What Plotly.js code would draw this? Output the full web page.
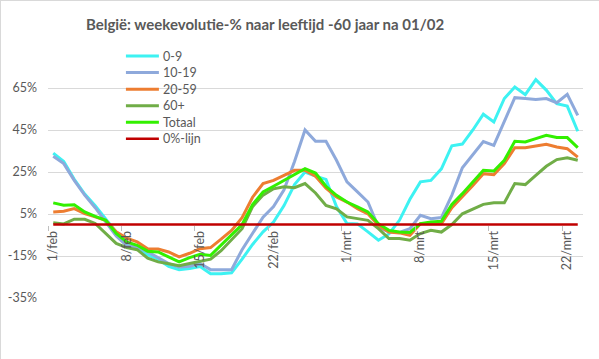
<!DOCTYPE html>
<html>
<head>
<meta charset="utf-8">
<script src="https://cdn.plot.ly/plotly-3.0.1.min.js"></script>
<style>
html,body{margin:0;padding:0;background:#fff;}
#chart{width:599px;height:359px;box-sizing:border-box;border-left:1px solid #d9d9d9;border-top:1px solid #d9d9d9;}
</style>
</head>
<body>
<div id="chart"></div>
<script>
const categories = ['1/feb','2/feb','3/feb','4/feb','5/feb','6/feb','7/feb','8/feb','9/feb','10/feb','11/feb','12/feb','13/feb','14/feb','15/feb','16/feb','17/feb','18/feb','19/feb','20/feb','21/feb','22/feb','23/feb','24/feb','25/feb','26/feb','27/feb','28/feb','1/mrt','2/mrt','3/mrt','4/mrt','5/mrt','6/mrt','7/mrt','8/mrt','9/mrt','10/mrt','11/mrt','12/mrt','13/mrt','14/mrt','15/mrt','16/mrt','17/mrt','18/mrt','19/mrt','20/mrt','21/mrt','22/mrt','23/mrt'];

const age0_9 = [34,30,21.5,14.5,9,2.5,-4,-10,-11,-14.5,-16.5,-20,-21.5,-21,-20,-23.5,-23.5,-23,-16.5,-9.5,-3.5,1.2,9,19,25,23,21.5,8.5,0.5,0.3,-3.5,-7.5,-4.5,2,12,20.3,21,26.5,37.5,38.3,45,52.5,48.8,60,65.5,61.8,69,64,57.5,56.4,44.4];
const age10_19 = [32.5,29,21,14,8,1.5,-5.5,-10,-10.7,-13,-15.8,-18.6,-20.2,-19.9,-18.6,-21.5,-21.5,-21.5,-12,-4.5,3.5,8.5,16.5,30,45,39.6,39.6,30.6,20.3,15.5,10.7,-1.2,-3.6,-3.8,-2,4.4,2.8,3.3,14,27,33,39.5,37.7,48.8,60.4,60,59.5,60,58,62,52];
const age20_59 = [6,6.3,7.6,5.2,3.6,2,-3.5,-6.5,-8.3,-11.5,-11.7,-13.1,-15.4,-13.7,-11.5,-11,-7,-2.8,3.2,13,19.5,21,23.4,25.8,25.8,23,17.3,13.1,10.7,7.5,5.1,-0.4,-3.6,-4,-5.2,0.4,0.4,0.4,8,13.1,18.6,24.2,23.7,29,36.6,36.6,37.4,38.2,36.9,36.1,32.1];
const age60plus = [0.8,0.3,2.5,2.5,0.5,-4.5,-9,-11,-12,-16,-17.8,-18.7,-19.6,-18.6,-17.5,-16.5,-12.5,-7,-2,8.5,14,17,18,17.5,19.5,15,9.1,7.5,3.6,2.8,2,-2,-6.7,-6.7,-7.5,-4.3,-2.8,-3.6,0,5.1,7.5,9.6,10.4,10.4,19.5,19,23.4,27.7,30.9,31.8,30.6];
const totaal = [10.3,9.2,9.4,6,3.9,2,-4.3,-8.3,-9.9,-12.7,-13.1,-15.4,-17.8,-15.8,-14.2,-14.7,-9.9,-5.1,0,9.5,15.5,18.2,21,24.2,26.6,24.5,18.2,13.9,10.7,8.4,6,0.4,-2.8,-3.6,-3.8,0.4,1.2,1.5,9.5,14.7,20.3,25.8,25.5,30.6,39.6,39.3,40.9,42.5,41.4,41.4,36.6];
const nulLijn = [0,0,0,0,0,0,0,0,0,0,0,0,0,0,0,0,0,0,0,0,0,0,0,0,0,0,0,0,0,0,0,0,0,0,0,0,0,0,0,0,0,0,0,0,0,0,0,0,0,0,0];

const yTickVals = [-35,-15,5,25,45,65];
const yTickText = ['-35%','-15%','5%','25%','45%','65%'];

const seriesNames = ['0-9','10-19','20-59','60+','Totaal','0%-lijn'];
const seriesData = [age0_9, age10_19, age20_59, age60plus, totaal, nulLijn];
const seriesColors = ['#3DF2F2','#8EA9DB','#ED7D31','#70AD47','#33F000','#C00000'];
const seriesWidths = [3,3,3,3,3,2.5];

const FONT = 'Lato, "Open Sans", sans-serif';
const traces = seriesNames.map((n,k)=>({
  type:'scatter', mode:'lines', name:n,
  x:categories, y:seriesData[k],
  line:{color:seriesColors[k], width:seriesWidths[k]},
  hoverinfo:'skip', showlegend:false
}));

// plot-area geometry (pixels) used to place the legend in paper coordinates
const M = {l:47, r:16.5, t:66, b:61.5};
const PW = 599 - M.l - M.r, PH = 359 - M.t - M.b;
const px2x = px => (px - M.l) / PW;
const py2y = py => 1 - (py - M.t) / PH;

// legend drawn as shapes + annotations (Excel-style compact spacing)
const legendShapes = [], legendAnnots = [];
seriesNames.forEach((n,k)=>{
  const py = 55 + 16.6*k;
  legendShapes.push({type:'line', xref:'paper', yref:'paper',
    x0:px2x(125), x1:px2x(158), y0:py2y(py), y1:py2y(py),
    line:{color:seriesColors[k], width:seriesWidths[k]}});
  legendAnnots.push({xref:'paper', yref:'paper', x:px2x(160), y:py2y(py),
    xanchor:'left', yanchor:'middle', showarrow:false, text:n,
    font:{family:FONT, size:12.5, color:'#595959'}});
});

const layout = {
  width:599, height:359,
  margin:M,
  paper_bgcolor:'#ffffff', plot_bgcolor:'#ffffff',
  font:{family:FONT, size:12, color:'#595959'},
  title:{
    text:'België: weekevolutie-% naar leeftijd -60 jaar na 01/02',
    x:264/599, xref:'container', xanchor:'center',
    y:1-24/359, yref:'container', yanchor:'middle',
    font:{family:FONT, size:15, color:'#595959', weight:'bold'}
  },
  xaxis:{
    type:'category', range:[-0.5,50.5],
    anchor:'free', position:35/110,
    tickmode:'linear', tick0:0, dtick:7,
    tickson:'boundaries',
    ticks:'outside', ticklen:5, tickcolor:'#bfbfbf', tickwidth:1,
    tickangle:-90, ticklabelstandoff:3,
    showgrid:false, zeroline:false, showline:false,
    tickfont:{family:FONT, size:12.5, color:'#595959'}
  },
  yaxis:{
    range:[-35,75],
    tickmode:'array', tickvals:yTickVals, ticktext:yTickText,
    showgrid:true, gridcolor:'#d9d9d9', gridwidth:1,
    zeroline:false, showline:false, ticks:'',
    ticklabelstandoff:10,
    tickfont:{family:FONT, size:12.5, color:'#595959'}
  },
  shapes:legendShapes,
  annotations:legendAnnots,
  showlegend:false
};

Plotly.newPlot('chart', traces, layout, {displayModeBar:false, staticPlot:true});
</script>
</body>
</html>
